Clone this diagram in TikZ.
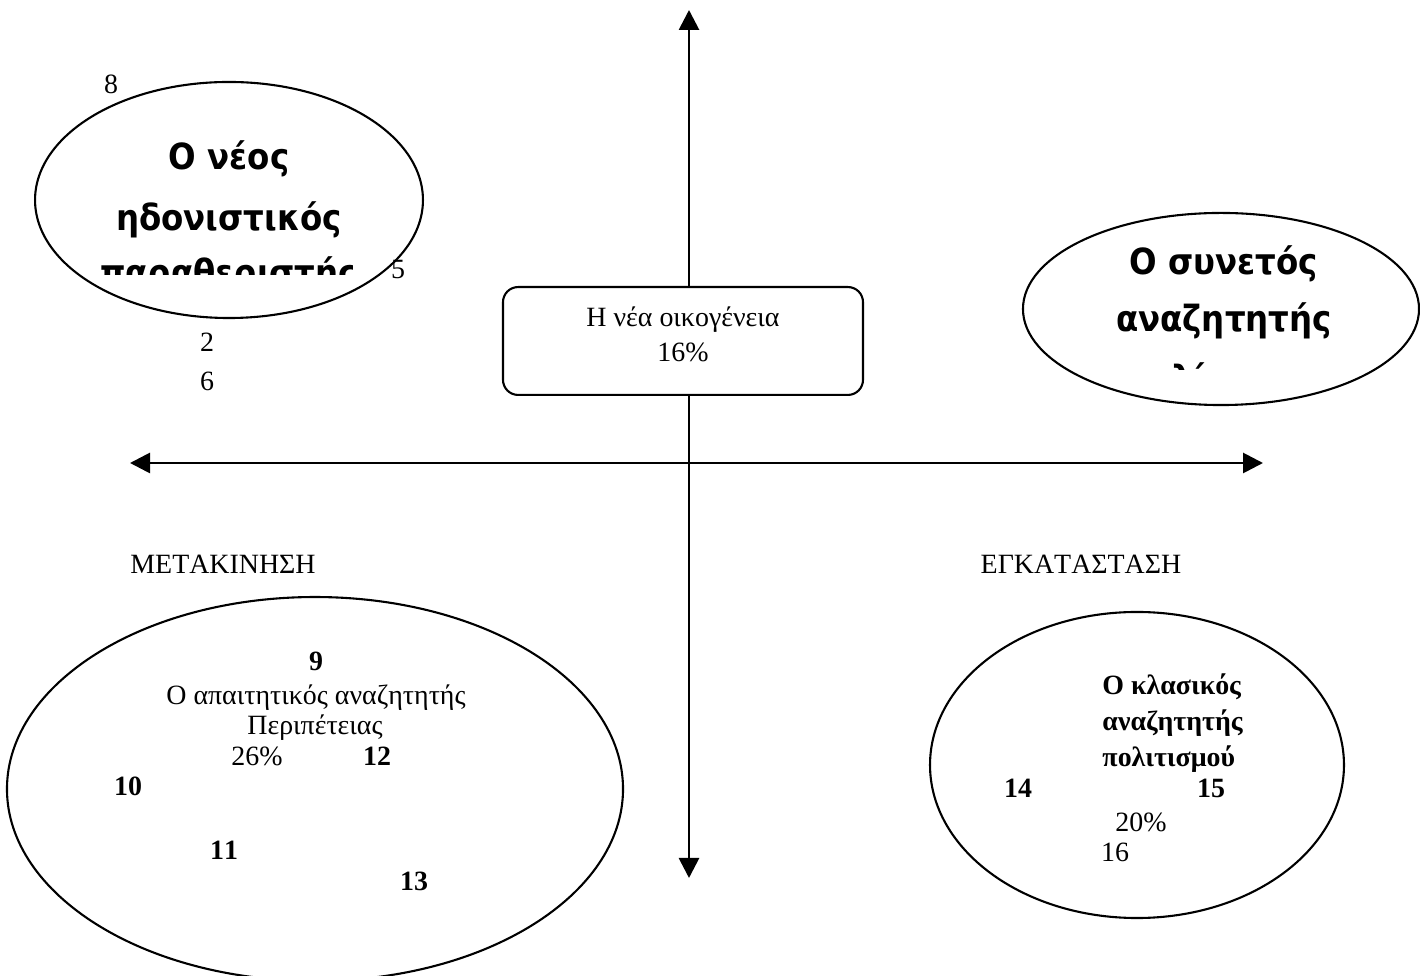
\documentclass[tikz,border=0pt]{standalone}
\usepackage{fontspec}
\setmainfont[Kerning=Off]{Liberation Serif}
\newfontfamily\roundfont[FakeStretch=0.9]{DejaVu Sans}
\usetikzlibrary{arrows.meta,shapes.geometric}

\begin{document}
\begin{tikzpicture}[x=0.43pt,y=-0.43pt,
  axis/.style={line width=1.2pt,
    {Triangle[length=8.6pt,width=8.6pt]}-{Triangle[length=8.6pt,width=8.6pt]}},
  ring/.style={draw,ellipse,line width=0.9pt,inner sep=0pt,outer sep=0pt},
  txt/.style={anchor=base,inner sep=0pt,font=\fontsize{12}{14}\selectfont},
  num/.style={anchor=base,inner sep=0pt,font=\fontsize{12}{14}\selectfont\bfseries},
  big/.style={anchor=base,inner sep=0pt,font=\fontsize{15.5}{18}\selectfont\roundfont\bfseries},
]
\useasboundingbox (0,0) rectangle (1420,976);

% axes
\coordinate (top) at (689,10);
\coordinate (bot) at (689,878);
\coordinate (lft) at (130,463);
\coordinate (rgt) at (1263,463);
\draw[axis] (top) -- (bot);
\draw[axis] (lft) -- (rgt);

% central box
\node[draw,fill=white,rounded corners=6.5pt,line width=0.9pt,inner sep=0pt,
      minimum width=154.8pt,minimum height=46.4pt] (fambox) at (683,341) {};
\node[txt] (fam1) at (683,327) {Η νέα οικογένεια};
\node[txt] (fam2) at (683,362) {16\%};

% upper left group
\node[ring,minimum width=166.8pt,minimum height=101.5pt] (ulring) at (229,200) {};
\begin{scope}
  \clip (100,80) rectangle (352,275);
  \node[big] (ul1) at (229,170) {Ο νέος};
  \node[big] (ul2) at (229,231) {ηδονιστικός};
  \node[big] (ul3) at (229,286) {παραθεριστής};
\end{scope}
\node[txt] (n8) at (111,94) {8};
\node[txt] (n5) at (398,279) {5};
\node[txt] (n2) at (207,352) {2};
\node[txt] (n6) at (207,391) {6};

% upper right group
\node[ring,minimum width=170.3pt,minimum height=82.6pt] (urring) at (1221,309) {};
\begin{scope}
  \clip (1090,220) rectangle (1360,370);
  \node[big] (ur1) at (1224,275) {Ο συνετός};
  \node[big] (ur2) at (1224,332) {αναζητητής};
  \node[big] (ur3) at (1200,392) {ηλίου};
\end{scope}

% axis labels
\node[txt] (move) at (223,574) {ΜΕΤΑΚΙΝΗΣΗ};
\node[txt] (settle) at (1081,574) {ΕΓΚΑΤΑΣΤΑΣΗ};

% lower left group
\node[ring,minimum width=264.9pt,minimum height=165.1pt] (llring) at (315,789) {};
\node[num] (n9) at (316,671) {9};
\node[txt] (ll1) at (316,705) {Ο απαιτητικός αναζητητής};
\node[txt] (ll2) at (315,735) {Περιπέτειας};
\node[txt] (ll3) at (257,766) {26\%};
\node[num] (n12) at (377,766) {12};
\node[num] (n10) at (128,796) {10};
\node[num] (n11) at (224,860) {11};
\node[num] (n13) at (414,891) {13};

% lower right group
\node[ring,minimum width=178pt,minimum height=131.6pt] (lrring) at (1137,765) {};
\node[num,anchor=base west] (lr1) at (1102,695) {Ο κλασικός};
\node[num,anchor=base west] (lr2) at (1102,731) {αναζητητής};
\node[num,anchor=base west] (lr3) at (1102,767) {πολιτισμού};
\node[num] (n14) at (1018,798) {14};
\node[num] (n15) at (1211,798) {15};
\node[txt] (lr4) at (1141,832) {20\%};
\node[txt] (n16) at (1115,862) {16};
\end{tikzpicture}
\end{document}
